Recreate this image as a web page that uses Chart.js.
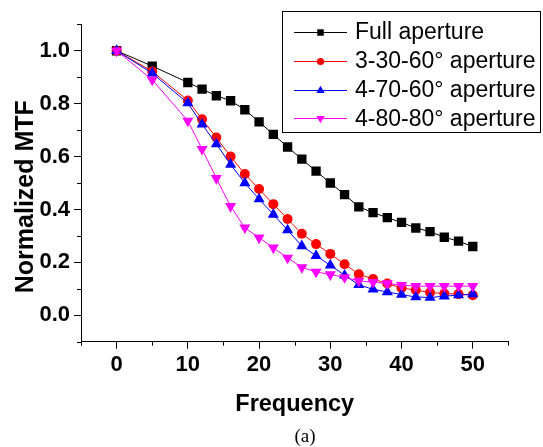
<!DOCTYPE html>
<html><head><meta charset="utf-8">
<script src="https://cdn.jsdelivr.net/npm/chart.js@4/dist/chart.umd.min.js"></script>
<style>html,body{margin:0;padding:0;background:#fff}canvas{display:block}</style>
</head><body>
<canvas id="c" width="543" height="447"></canvas>
<script>
const frequency = [0,5,10,12,14,16,18,20,22,24,26,28,30,32,34,36,38,40,42,44,46,48,50];
const fullAperture = [1.0,0.942,0.880,0.855,0.830,0.811,0.777,0.731,0.684,0.636,0.590,0.545,0.500,0.456,0.410,0.388,0.369,0.351,0.330,0.316,0.295,0.280,0.260];
const aperture3_30_60 = [1.0,0.922,0.812,0.741,0.672,0.600,0.534,0.477,0.420,0.364,0.308,0.269,0.232,0.193,0.155,0.137,0.120,0.103,0.095,0.086,0.082,0.080,0.076];
const aperture4_70_60 = [1.0,0.915,0.802,0.722,0.647,0.570,0.500,0.439,0.381,0.322,0.262,0.225,0.189,0.151,0.115,0.098,0.088,0.078,0.069,0.067,0.072,0.076,0.080];
const aperture4_80_80 = [1.0,0.890,0.735,0.628,0.518,0.412,0.331,0.293,0.255,0.217,0.181,0.164,0.154,0.143,0.130,0.125,0.120,0.114,0.110,0.110,0.110,0.110,0.110];
const seriesLabels = ['Full aperture','3-30-60\u00B0 aperture','4-70-60\u00B0 aperture','4-80-80\u00B0 aperture'];
const xTickValues = [0,10,20,30,40,50];
const yTickValues = [0,0.2,0.4,0.6,0.8,1.0];
const xMinorTicks = [-5,5,15,25,35,45,55];
const yMinorTicks = [-0.1,0.1,0.3,0.5,0.7,0.9,1.1];
const xTitle = 'Frequency';
const yTitle = 'Normalized MTF';
const caption = '(a)';

const styles = [
  {color:'#000000', pointStyle:'rect', rotation:0, radius:6.6, legendRadius:4.6, order:3},
  {color:'#ff0000', pointStyle:'circle', rotation:0, radius:5, legendRadius:3.6, order:2},
  {color:'#0000ff', pointStyle:'triangle', rotation:0, radius:6.4, legendRadius:4.8, order:1},
  {color:'#ff00ff', pointStyle:'triangle', rotation:180, radius:6.4, legendRadius:4.8, order:0}
];
const seriesValues = [fullAperture, aperture3_30_60, aperture4_70_60, aperture4_80_80];

const datasets = seriesValues.map((vals, i) => ({
  label: seriesLabels[i],
  data: frequency.map((f, j) => ({x: f, y: vals[j]})),
  borderColor: styles[i].color,
  backgroundColor: styles[i].color,
  borderWidth: 1,
  pointStyle: styles[i].pointStyle,
  pointRotation: styles[i].rotation,
  pointRadius: styles[i].radius,
  pointBorderWidth: 0,
  pointBackgroundColor: styles[i].color,
  pointBorderColor: styles[i].color,
  tension: 0,
  order: styles[i].order
}));

const SANS = '"Liberation Sans", Arial, sans-serif';

const decor = {
  id: 'decor',
  afterDraw(chart) {
    const ctx = chart.ctx;
    const xs = chart.scales.x, ys = chart.scales.y;
    ctx.save();
    // minor ticks
    ctx.strokeStyle = '#000'; ctx.lineWidth = 1;
    ctx.beginPath();
    xMinorTicks.forEach(v => { const px = Math.round(xs.getPixelForValue(v)) + 0.5; ctx.moveTo(px, ys.bottom); ctx.lineTo(px, ys.bottom + 4); });
    yMinorTicks.forEach(v => { const py = Math.round(ys.getPixelForValue(v)) + 0.5; ctx.moveTo(xs.left, py); ctx.lineTo(xs.left - 4, py); });
    ctx.stroke();
    // axis titles
    ctx.fillStyle = '#000';
    ctx.font = 'bold 23.5px ' + SANS;
    ctx.textAlign = 'center'; ctx.textBaseline = 'alphabetic';
    ctx.fillText(xTitle, (chart.chartArea.left + chart.chartArea.right) / 2, 411);
    ctx.save();
    ctx.translate(33, 196.7);
    ctx.rotate(-Math.PI / 2);
    ctx.font = 'bold 25px ' + SANS;
    ctx.fillText(yTitle, 0, 0);
    ctx.restore();
    // caption
    ctx.font = '19px "Liberation Serif", "Times New Roman", serif';
    ctx.fillText(caption, 305, 442);
    // legend
    ctx.lineWidth = 1; ctx.strokeStyle = '#000';
    ctx.strokeRect(282.5, 11.5, 258, 121);
    const rows = [31.7, 61, 89.5, 118.3];
    ctx.font = '23px ' + SANS;
    ctx.textAlign = 'left'; ctx.textBaseline = 'middle';
    chart.data.datasets.forEach((ds, i) => {
      const y = rows[i];
      ctx.strokeStyle = ds.borderColor; ctx.lineWidth = 1;
      ctx.beginPath(); ctx.moveTo(294, Math.round(y) + 0.5); ctx.lineTo(347, Math.round(y) + 0.5); ctx.stroke();
      ctx.fillStyle = ds.borderColor;
      Chart.helpers.drawPoint(ctx, {pointStyle: ds.pointStyle, rotation: ds.pointRotation, radius: styles[i].legendRadius, borderWidth: 0}, 320.5, Math.round(y) + 0.5);
      ctx.fillStyle = '#000';
      ctx.fillText(ds.label, 355, y + 1);
    });
    ctx.restore();
  }
};

new Chart(document.getElementById('c'), {
  type: 'line',
  data: { datasets },
  options: {
    responsive: false,
    animation: false,
    devicePixelRatio: 1,
    layout: { padding: { top: 24.3, right: 34.6, left: 0, bottom: 0 } },
    plugins: { legend: { display: false }, tooltip: { enabled: false }, title: { display: false } },
    scales: {
      x: {
        type: 'linear', min: -5, max: 55,
        afterBuildTicks: s => { s.ticks = xTickValues.map(v => ({value: v})); },
        afterFit: s => { s.height = 447 - 341.7; },
        grid: { display: true, drawOnChartArea: false, drawTicks: true, tickLength: 7, color: '#000', tickColor: '#000' },
        border: { display: true, color: '#000', width: 1 },
        ticks: { color: '#000', padding: 3, maxRotation: 0, font: { family: SANS, size: 22, weight: 'bold' }, callback: v => String(v) }
      },
      y: {
        type: 'linear', min: -0.1, max: 1.1,
        afterBuildTicks: s => { s.ticks = yTickValues.map(v => ({value: v})); },
        afterFit: s => { s.width = 81; },
        grid: { display: true, drawOnChartArea: false, drawTicks: true, tickLength: 7, color: '#000', tickColor: '#000' },
        border: { display: true, color: '#000', width: 1 },
        ticks: { color: '#000', padding: 4, font: { family: SANS, size: 22, weight: 'bold' }, callback: v => Number(v).toFixed(1) }
      }
    }
  },
  plugins: [decor]
});
</script>
</body></html>
